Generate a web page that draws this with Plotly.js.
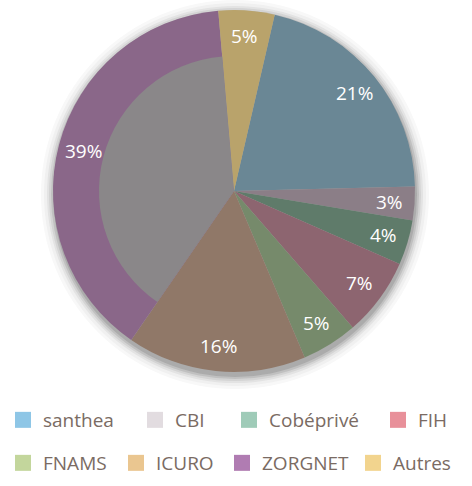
<!DOCTYPE html>
<html><head><meta charset="utf-8">
<script src="https://cdn.plot.ly/plotly-3.0.1.min.js"></script>
<style>html,body{margin:0;padding:0;background:#fff}#chart{width:472px;height:486px}</style>
</head><body><div id="chart"></div>
<script>
// ---- data ----
const labels = ['santhea', 'CBI', 'Cobéprivé', 'FIH', 'FNAMS', 'ICURO', 'ZORGNET', 'Autres'];
const values = [21, 3, 4, 7, 5, 16, 39, 5];
const sliceColors = ['#6a8795', '#8b7e87', '#5f7b6a', '#8d6570', '#768a6b', '#907868', '#8a6789', '#b9a36b'];
const legendColors = ['#8ec6e6', '#e2dce0', '#9fcbb8', '#e8909a', '#c3d69c', '#eac690', '#b07cb2', '#f2d48e'];
const innerColors = ['rgba(0,0,0,0)', 'rgba(0,0,0,0)', 'rgba(0,0,0,0)', 'rgba(0,0,0,0)', 'rgba(0,0,0,0)', 'rgba(0,0,0,0)', '#8a8789', 'rgba(0,0,0,0)'];

// ---- layout constants ----
const W = 472, H = 486;
const CX = 234, CY = 191, R = 181, RIN = 135;
const ROT = 13;
const LABEL_R = 0.86;
const legendTextX = [43, 175, 269, 418, 43, 156, 262, 393];
const legendTextY = [420, 420, 420, 420, 463, 463, 463, 463];
const FONT = 'Open Sans, Noto Sans, sans-serif';

const px = x => x / W;
const py = y => (H - y) / H;
function domainFor(r) {
  return { x: [px(CX - r), px(CX + r)], y: [py(CY + r), py(CY - r)] };
}

const traces = [];
// legend carriers (empty scatter traces, only their legend entries show)
labels.forEach((lab, i) => {
  traces.push({
    type: 'scatter', mode: 'markers', x: [null], y: [null], name: lab,
    marker: { symbol: 'square', size: 17, color: legendColors[i], line: { width: 0 } },
    hoverinfo: 'skip', showlegend: true,
    legend: i === 0 ? 'legend' : 'legend' + (i + 1)
  });
});
// main pie
traces.push({
  type: 'pie', labels: labels, values: values, sort: false,
  direction: 'clockwise', rotation: ROT,
  marker: { colors: sliceColors, line: { width: 0 } },
  domain: domainFor(R), textinfo: 'none', hoverinfo: 'label+percent', showlegend: false
});
// inner overlay
traces.push({
  type: 'pie', labels: labels, values: values, sort: false,
  direction: 'clockwise', rotation: ROT,
  marker: { colors: innerColors, line: { width: 0 } },
  domain: domainFor(RIN), textinfo: 'none', hoverinfo: 'skip', showlegend: false
});

// percent labels computed from data
const total = values.reduce((a, b) => a + b, 0);
const annotations = [];
let acc = 0;
values.forEach((v, i) => {
  const mid = (ROT + (acc + v / 2) / total * 360) * Math.PI / 180;
  acc += v;
  const x = CX + R * LABEL_R * Math.sin(mid);
  const y = CY - R * LABEL_R * Math.cos(mid);
  annotations.push({
    xref: 'paper', yref: 'paper', x: px(x), y: py(y), xanchor: 'center', yanchor: 'middle',
    text: Math.round(v / total * 100) + '%', showarrow: false,
    font: { family: FONT, size: 19, color: '#ffffff' }
  });
});

// soft shadow behind pie
const shapes = [];
[[13, 0.03], [10, 0.04], [7, 0.06], [5, 0.08], [3, 0.11], [1, 0.14]].forEach(([d, op]) => {
  shapes.push({
    type: 'circle', xref: 'paper', yref: 'paper', layer: 'below',
    x0: px(CX - R - d + 1), x1: px(CX + R + d + 1), y0: py(CY + R + d + 4), y1: py(CY - R - d + 3),
    fillcolor: 'rgba(40,40,40,' + op + ')', line: { width: 0 }
  });
});

const layout = {
  width: W, height: H, margin: { l: 0, r: 0, t: 0, b: 0 },
  paper_bgcolor: '#ffffff', plot_bgcolor: 'rgba(0,0,0,0)',
  xaxis: { visible: false }, yaxis: { visible: false },
  showlegend: true, annotations: annotations, shapes: shapes
};
labels.forEach((lab, i) => {
  const key = i === 0 ? 'legend' : 'legend' + (i + 1);
  layout[key] = {
    x: px(legendTextX[i] - 40), y: py(legendTextY[i]), xanchor: 'left', yanchor: 'middle',
    orientation: 'v', bgcolor: 'rgba(0,0,0,0)', borderwidth: 0,
    font: { family: FONT, size: 19, color: '#7a6b63' }
  };
});

Plotly.newPlot('chart', traces, layout, { displayModeBar: false, staticPlot: true });
</script>
</body></html>
